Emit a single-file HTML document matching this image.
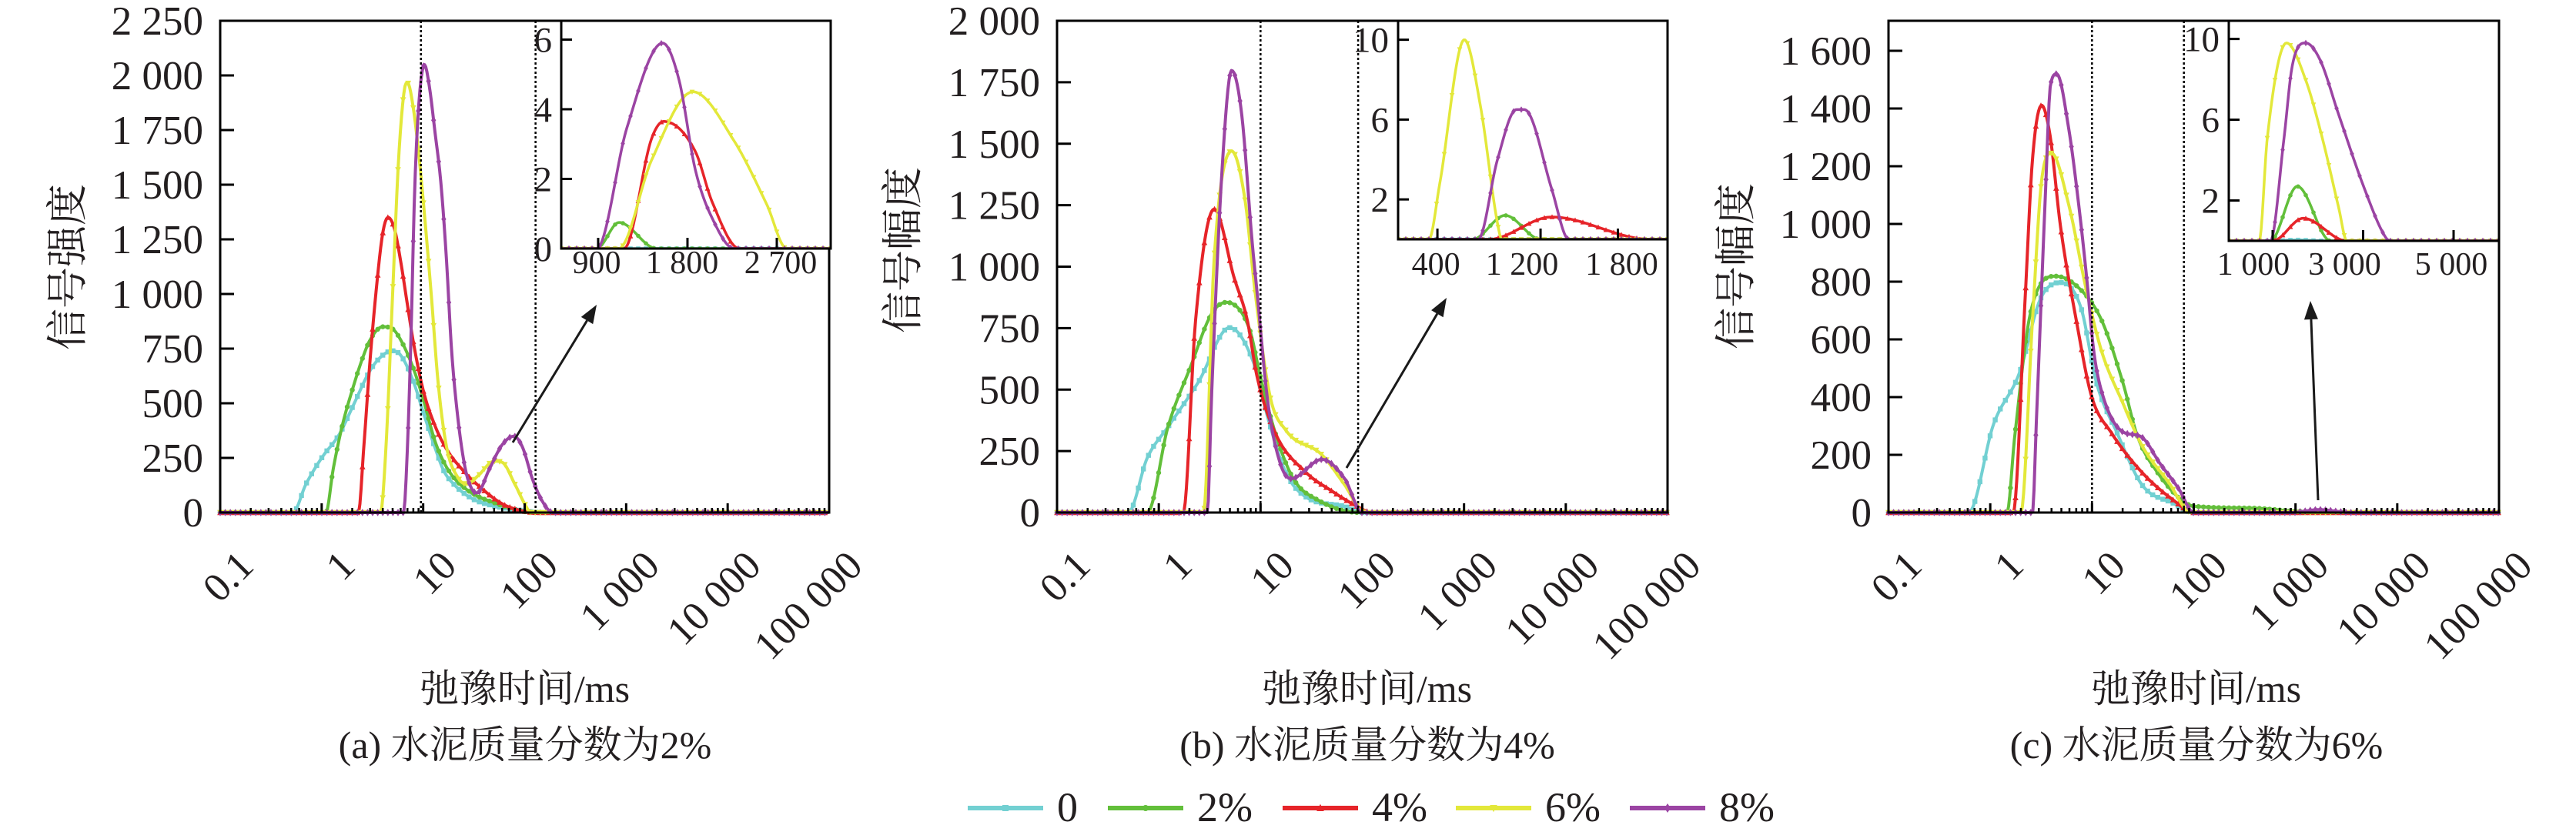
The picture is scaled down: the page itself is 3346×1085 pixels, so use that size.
<!DOCTYPE html>
<html><head><meta charset="utf-8"><style>
html,body{margin:0;padding:0;background:#fff;}
svg{display:block;}
svg, svg text{font-family:"Liberation Serif","DejaVu Serif","Noto Serif CJK SC",serif;}
text{fill:#231f20;}
</style></head><body>
<svg id="fig" width="3346" height="1085" viewBox="0 0 3346 1085" xmlns="http://www.w3.org/2000/svg" font-family="'Liberation Serif','DejaVu Serif','Noto Serif CJK SC',serif"></svg>
<script>
// ---- data ----
const seriesNames = ['0','2%','4%','6%','8%'];
const seriesColors = ['#72d0d2','#62bf3a','#e62429','#e3e83a','#9b44a3'];
const xTickVals = [0.1,1,10,100,1000,10000,100000];
const xTickLabels = ['0.1','1','10','100','1 000','10 000','100 000'];

// Panel (a) main
const mainA_t = [
 [0.52,0.7,1.0,1.5,2,3,4,5,6,8,10,13,16,20,30,50,100,150],
 [1.1,1.3,1.6,2,2.5,3,4,5,6,8,10,13,16,20,30,50,80,120],
 [2.3,2.6,3,3.5,4,4.5,5.2,6,7,8,10,13,17,25,40,60,90,130],
 [3.8,4.3,5,5.7,6.5,7,8,9,10,12,14,17,22,27,35,50,60,80,100,115],
 [6.4,7,7.6,8.2,9,10.3,11.5,13,15,17,19,22,26,30,34,45,60,78,95,120,150,190]
];
const mainA_v = [
 [0,130,250,360,480,650,720,740,720,600,460,300,190,130,65,30,8,0],
 [0,200,400,560,700,790,850,840,790,660,520,330,230,160,90,45,15,0],
 [0,300,700,1050,1280,1350,1300,1150,950,780,560,400,290,190,100,40,10,0],
 [0,300,1000,1600,1930,1967,1850,1650,1430,1000,600,300,160,130,170,235,230,130,40,0],
 [0,300,820,1440,1850,2049,1950,1750,1500,1150,750,430,200,110,90,200,310,349,300,150,50,0]
];
const yTicksA = [0,250,500,750,1000,1250,1500,1750,2000,2250];

// Panel (a) inset
const insetA_t = [
 [],
 [885,1110,1490],
 [1160,1440,1560,1880,2050,2325],
 [1106,1440,1855,2270,2600,2800],
 [885,1190,1550,1715,1880,2075,2270]
];
const insetA_v = [
 [],
 [0,0.75,0],
 [0,3.17,3.65,2.78,1.33,0],
 [0,2.55,4.5,3.09,1.26,0],
 [0,3.47,5.9,4.84,2.25,0.72,0]
];
const insetA_yTicks = [0,2,4,6];
const insetA_xTicks = [900,1800,2700];

// Panel (b) main
const mainB_t = [
 [0.5,0.77,1.23,2.46,4.96,8.8,11.8,17.7,28,67,100],
 [0.77,1.23,2.06,3.3,4.6,7.8,9.9,14,21,37,95],
 [1.74,2.3,3.5,5.5,7.4,9.2,14,28,50,89,125],
 [2.75,3.5,5.2,7.0,8.8,12.4,17.7,40,67,105],
 [3.0,3.3,4.2,5.2,6.5,8.3,9.2,11.8,15.7,20,40,67,100]
];
const mainB_v = [
 [0,222,348,532,752,595,385,163,63,25,0],
 [0,348,595,808,855,745,558,322,138,50,0],
 [0,783,1234,955,783,557,322,163,88,25,0],
 [0,1031,1470,1278,905,473,335,235,113,0],
 [0,473,1404,1798,1626,1093,905,448,197,138,216,138,0]
];
const yTicksB = [0,250,500,750,1000,1250,1500,1750,2000];

// Panel (b) inset
const insetB_t = [
 [],
 [673,925,1200],
 [800,1286,2050],
 [334,418,609,734,866,900],
 [716,866,1012,1075,1286,1391,1430]
];
const insetB_v = [
 [],
 [0,1.2,0],
 [0,1.12,0],
 [0,2.79,10.0,6.67,0.8,0],
 [0,4.0,6.5,6.5,2.53,0.2,0]
];
const insetB_yTicks = [2,6,10];
const insetB_xTicks = [400,1200,1800];

// Panel (c) main
const mainC_t = [
 [0.61,1.08,1.94,3.1,4.9,7.8,11,17.7,31,63,100],
 [1.46,1.74,2.5,4.4,7.8,12.4,20,28,44,84,120,400,1000,2000,5000],
 [1.68,2.2,2.59,3.2,3.86,4.9,7.0,9.9,15.6,31,63,100],
 [2.0,2.6,3.2,4.0,5.9,8.8,12.4,20,31,56,95],
 [2.6,2.84,3.5,3.9,4.5,5.9,7.4,8.8,10.4,12.4,20,30,47,71,100,900,1700,3500]
];
const mainC_v = [
 [0,307,485,739,797,709,453,275,96,32,0],
 [0,264,696,819,771,667,453,264,139,32,20,15,5,3,0],
 [0,739,1216,1411,1309,992,667,403,275,139,43,0],
 [0,667,1152,1245,1067,771,560,381,232,107,0],
 [0,317,1120,1480,1520,1331,1067,824,560,421,280,264,168,83,0,0,10,0]
];
const yTicksC = [0,200,400,600,800,1000,1200,1400,1600];

// Panel (c) inset
const insetC_t = [
 [1000,1500,2200],
 [950,1545,2280],
 [1000,1675,2640],
 [704,880,1306,1730,2100,2460,2640],
 [950,1250,1430,1730,2040,2460,3010,3490,3600]
];
const insetC_v = [
 [0,0.05,0],
 [0,2.7,0],
 [0,1.12,0],
 [0,5.07,9.8,7.97,5.07,1.64,0],
 [0,5.07,8.63,9.8,9.0,6.25,2.7,0.2,0]
];
const insetC_yTicks = [2,6,10];
const insetC_xTicks = [1000,3000,5000];

// ---- drawing ----
const svg = document.getElementById('fig');
const NS = 'http://www.w3.org/2000/svg';
const FONT = "'Liberation Serif','DejaVu Serif','Noto Serif CJK SC',serif";
function el(tag, attrs, parent){
  const e = document.createElementNS(NS, tag);
  for (const k in attrs) e.setAttribute(k, attrs[k]);
  if (tag==='text') e.setAttribute('font-family', FONT);
  (parent||svg).appendChild(e);
  return e;
}
function fmt(n){ const s = String(n); return s.length>3 ? s.slice(0,s.length-3)+' '+s.slice(-3) : s; }
function fitNum(t, str, fs){
  let w = 0;
  for (const c of str){ w += (c===' '||c==='.') ? 0.25*fs : (c==='%' ? 0.83*fs : 0.5*fs); }
  t.setAttribute('textLength', w.toFixed(1));
  t.setAttribute('lengthAdjust', 'spacingAndGlyphs');
}

function monotone(xs, ys){
  const n = xs.length;
  const d = [], m = new Array(n).fill(0);
  for (let i=0;i<n-1;i++) d.push((ys[i+1]-ys[i])/(xs[i+1]-xs[i] || 1e-9));
  if (n>1){ m[0]=d[0]; m[n-1]=d[n-2]; }
  for (let i=1;i<n-1;i++){
    if (d[i-1]*d[i] <= 0) m[i]=0; else m[i]=(d[i-1]+d[i])/2;
  }
  for (let i=0;i<n-1;i++){
    if (d[i]===0){ m[i]=0; m[i+1]=0; continue; }
    const a=m[i]/d[i], b=m[i+1]/d[i], s=a*a+b*b;
    if (s>9){ const t=3/Math.sqrt(s); m[i]=t*a*d[i]; m[i+1]=t*b*d[i]; }
  }
  return function(x){
    if (x<=xs[0]) return ys[0];
    if (x>=xs[n-1]) return ys[n-1];
    let i=0; while (i<n-2 && x>xs[i+1]) i++;
    const h=xs[i+1]-xs[i], t=(x-xs[i])/h;
    const h00=2*t*t*t-3*t*t+1, h10=t*t*t-2*t*t+t, h01=-2*t*t*t+3*t*t, h11=t*t*t-t*t;
    return h00*ys[i]+h10*h*m[i]+h01*ys[i+1]+h11*h*m[i+1];
  };
}

function marker(g, k, x, y, s, color){
  let m;
  if (k===0) m = el('rect',{x:x-s,y:y-s,width:2*s,height:2*s,fill:color},g);
  else if (k===1) m = el('circle',{cx:x,cy:y,r:s,fill:color},g);
  else if (k===2) m = el('path',{d:`M${x},${y-s*1.3}L${x+s*1.2},${y+s}L${x-s*1.2},${y+s}Z`,fill:color},g);
  else if (k===3) m = el('path',{d:`M${x},${y+s*1.3}L${x+s*1.2},${y-s}L${x-s*1.2},${y-s}Z`,fill:color},g);
  else m = el('path',{d:`M${x},${y-s*1.5}L${x+s},${y}L${x},${y+s*1.5}L${x-s},${y}Z`,fill:color},g);
  
  
}

function drawCurve(g, k, pxs, vals, yf, x0, x1, mstep, msize, lw, name){
  const color = seriesColors[k];
  let xs = pxs.slice(), ys = vals.slice();
  if (xs.length===0){ xs=[x0,x1]; ys=[0,0]; }
  if (xs[0] > x0){ xs.unshift(x0); ys.unshift(0); }
  if (xs[xs.length-1] < x1){ xs.push(x1); ys.push(0); }
  const f = monotone(xs, ys);
  let d = '';
  for (let x=x0; x<=x1+0.01; x+=1.5){
    const v = Math.max(0, f(x));
    d += (d?'L':'M') + x.toFixed(1) + ',' + yf(v).toFixed(1);
  }
  const sg = el('g',{},g);
  
  
  const p = el('path',{d:d,fill:'none',stroke:color,'stroke-width':lw,'stroke-linejoin':'round'},sg);
  
  
  for (let x=x0; x<=x1+0.01; x+=mstep){
    marker(sg, k, x, yf(Math.max(0,f(x))), msize, color);
  }
}

function mainPanel(cfg){
  const g = el('g',{});
  
  
  const dec = (cfg.right-cfg.left)/6;
  const xf = t => cfg.left + (Math.log10(t)+1)*dec;
  const yf = v => cfg.bottom - v/cfg.ymax*(cfg.bottom-cfg.top);
  for (let k=0;k<5;k++){
    drawCurve(g, k, cfg.t[k].map(xf), cfg.v[k], yf, cfg.left, cfg.right, 6.6, 3.2, 4, 'series-'+seriesNames[k].replace('%','pct'));
  }
  const fr = el('rect',{x:cfg.left,y:cfg.top,width:cfg.right-cfg.left,height:cfg.bottom-cfg.top,fill:'none',stroke:'#000','stroke-width':3},g);
   
  cfg.yTicks.forEach(v=>{
    const y = yf(v);
    if (v>0) el('line',{x1:cfg.left,x2:cfg.left+18,y1:y,y2:y,stroke:'#000','stroke-width':3},g);
    const t = el('text',{x:cfg.left-22,y:y+18,'text-anchor':'end','font-size':53},g);
    t.textContent = fmt(v);
    fitNum(t, fmt(v), 53);
     
  });
  xTickVals.forEach((tv,i)=>{
    const x = xf(tv);
    el('line',{x1:x,x2:x,y1:cfg.bottom,y2:cfg.bottom-12,stroke:'#000','stroke-width':3},g);
    if (i<6) for (let m=2;m<10;m++){
      const xm = xf(tv*m);
      el('line',{x1:xm,x2:xm,y1:cfg.bottom,y2:cfg.bottom-6,stroke:'#000','stroke-width':2.5},g);
    }
    const ax = x+46, ay = 738;
    const t = el('text',{x:ax,y:ay,'text-anchor':'end','font-size':53,transform:`rotate(-45 ${ax} ${ay})`},g);
    t.textContent = xTickLabels[i];
    fitNum(t, xTickLabels[i], 53);
     
  });
  cfg.dots.forEach(tv=>{
    const x = xf(tv);
    const l = el('line',{x1:x,x2:x,y1:cfg.top,y2:cfg.bottom,stroke:'#000','stroke-width':2.5,'stroke-dasharray':'3 3'},g);
     
  });
  const a = cfg.arrow;
  const ang = Math.atan2(a[3]-a[1], a[2]-a[0]);
  const ah = 24, aw = 9;
  const bx = a[2]-ah*Math.cos(ang), by = a[3]-ah*Math.sin(ang);
  const al = el('line',{x1:a[0],y1:a[1],x2:bx,y2:by,stroke:'#1a1a1a','stroke-width':3},g);
   
  el('path',{d:`M${a[2]},${a[3]}L${bx+aw*Math.sin(ang)},${by-aw*Math.cos(ang)}L${bx-aw*Math.sin(ang)},${by+aw*Math.cos(ang)}Z`,fill:'#1a1a1a'},g);
  const I = cfg.inset;
  const ig = el('g',{},g);
   
  el('rect',{x:I.left,y:I.top,width:I.right-I.left,height:I.bottom-I.top,fill:'#fff'},ig);
  const ixf = t => I.left + (t-I.xmin)/(I.xmax-I.xmin)*(I.right-I.left);
  const iyf = v => I.bottom - v/I.ymax*(I.bottom-I.top);
  const cid = cfg.name+'-clip';
  const cp = el('clipPath',{id:cid},ig);
  el('rect',{x:I.left,y:I.top,width:I.right-I.left,height:I.bottom-I.top},cp);
  const cg = el('g',{'clip-path':`url(#${cid})`},ig);
  for (let k=0;k<5;k++){
    drawCurve(cg, k, I.t[k].map(ixf), I.v[k], iyf, I.left, I.right, 10, 2.8, 3.5, 'inset-series-'+seriesNames[k].replace('%','pct'));
  }
  el('rect',{x:I.left,y:I.top,width:I.right-I.left,height:I.bottom-I.top,fill:'none',stroke:'#000','stroke-width':3},ig);
  I.yTicks.forEach(v=>{
    const y = iyf(v);
    if (v>0) el('line',{x1:I.left,x2:I.left+14,y1:y,y2:y,stroke:'#000','stroke-width':3},ig);
    const t = el('text',{x:I.left-12,y:y+16,'text-anchor':'end','font-size':47},ig);
    t.textContent = fmt(v);
    fitNum(t, fmt(v), 47);
     
  });
  I.xTicks.forEach((v,i)=>{
    const x = ixf(v);
    el('line',{x1:x,x2:x,y1:I.bottom,y2:I.bottom-14,stroke:'#000','stroke-width':3},ig);
    const t = el('text',{x:x+I.labelDx[i],y:I.labelY,'text-anchor':'middle','font-size':42},ig);
    t.textContent = fmt(v);
    fitNum(t, fmt(v), 42);
     
  });
  const yt = el('text',{x:cfg.ytx,y:cfg.yty,'text-anchor':'middle','font-size':54,transform:`rotate(-90 ${cfg.ytx} ${cfg.yty})`,'dominant-baseline':'central'},g);
  yt.textContent = cfg.ytitle;
   
  const xt = el('text',{x:cfg.cx,y:912,'text-anchor':'middle','font-size':50},g);
  xt.textContent = '弛豫时间/ms';
   
  const cap = el('text',{x:cfg.cx,y:985,'text-anchor':'middle','font-size':50},g);
  cap.textContent = cfg.caption;
   
}

mainPanel({name:'panel-a',left:286,right:1077,top:27,bottom:666,ymax:2250,yTicks:yTicksA,t:mainA_t,v:mainA_v,
  dots:[9.5,128],arrow:[666,575,775,396],ytitle:'信号强度',ytx:88,yty:347,cx:682,caption:'(a) 水泥质量分数为2%',
  inset:{left:729,right:1079,top:27,bottom:323,xmin:528,xmax:3243,ymax:6.54,t:insetA_t,v:insetA_v,yTicks:insetA_yTicks,xTicks:insetA_xTicks,labelY:355,labelDx:[-2,-7,5]}});
mainPanel({name:'panel-b',left:1373,right:2166,top:27,bottom:666,ymax:2000,yTicks:yTicksB,t:mainB_t,v:mainB_v,
  dots:[10,91],arrow:[1749,608,1879,387],ytitle:'信号幅度',ytx:1173,yty:325,cx:1776,caption:'(b) 水泥质量分数为4%',
  inset:{left:1816,right:2166,top:27,bottom:311,xmin:95,xmax:2185,ymax:10.95,t:insetB_t,v:insetB_v,yTicks:insetB_yTicks,xTicks:insetB_xTicks,labelY:357,labelDx:[-2,-24,5]}});
mainPanel({name:'panel-c',left:2453,right:3246,top:27,bottom:666,ymax:1704,yTicks:yTicksC,t:mainC_t,v:mainC_v,
  dots:[10,80],arrow:[3011,650,3001,391],ytitle:'信号幅度',ytx:2255,yty:346,cx:2853,caption:'(c) 水泥质量分数为6%',
  inset:{left:2895,right:3246,top:27,bottom:313,xmin:30,xmax:6004,ymax:10.9,t:insetC_t,v:insetC_v,yTicks:insetC_yTicks,xTicks:insetC_xTicks,labelY:357,labelDx:[-25,-24,-3]}});

const lg = el('g',{});
 
const legX = [1257,1439,1666,1891,2117];
for (let k=0;k<5;k++){
  const eg = el('g',{},lg);
   
  el('line',{x1:legX[k],x2:legX[k]+98,y1:1050,y2:1050,stroke:seriesColors[k],'stroke-width':6},eg);
  marker(eg, k, legX[k]+49, 1050, 4, seriesColors[k]);
  const t = el('text',{x:legX[k]+116,y:1067,'font-size':54},eg);
  t.textContent = seriesNames[k];
   
}
</script>
</body></html>
